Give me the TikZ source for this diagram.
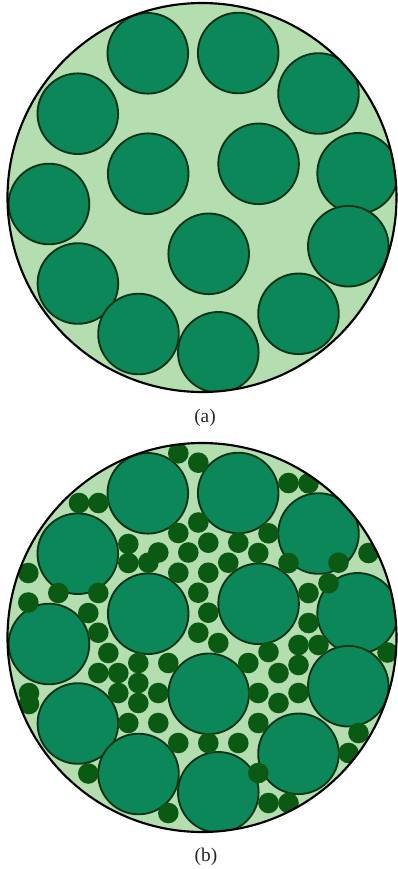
\documentclass[tikz,border=0pt]{standalone}
\usepackage{fontspec}
\setmainfont{Liberation Serif}
\definecolor{bgfill}{HTML}{B4DDB0}
\definecolor{bigfill}{HTML}{0B875A}
\definecolor{bigline}{HTML}{0A3515}
\definecolor{smallfill}{HTML}{0B5A14}
\def\bigcircles{147.8/53.3, 238.2/53, 318.5/93.5, 77.8/113.7, 148.2/173.7, 258.6/163.8, 357.6/173.3, 49/204, 208.7/253.8, 348.3/246.2, 77.9/283.5, 298.5/313.8, 138.5/334, 218.3/352.3}
\def\smallcircles{178.3/453.3, 198.3/462.7, 288.5/483, 308.5/483.3, 79/503, 98.5/503, 198.3/522.5, 178.3/533, 268.5/533.3, 128.3/544, 208.3/542.7, 238.3/542.7, 158.3/552.5, 188.3/552.5, 258.3/553, 368.5/553, 148.3/562.7, 128.3/563, 228.3/562.7, 288.5/563, 338.5/562.7, 178.3/572.7, 208.3/572.7, 28.3/573, 328.5/583.3, 58.3/593, 98.3/593, 198.3/592.7, 308.5/593, 28.3/602.5, 88.3/613, 208.3/612.7, 308.5/623, 98.3/632.7, 198.3/632.7, 218.3/643, 298.5/645, 318.5/645, 387.5/652.5, 108.3/653, 268.5/652, 298.5/665, 138.3/663, 168.3/663, 248.3/663, 98.3/673, 118.3/673, 278.5/673, 138.3/683, 118.3/693, 158.3/693, 258.3/693, 298.5/693, 29/693, 29/704, 138.3/703, 278.5/703, 128.3/723, 158.3/723, 258.3/723, 358.5/733, 178.3/743, 208.3/743, 238.3/743, 348.5/753, 88.3/773.5, 258.3/773, 268.5/803, 288.5/803, 168.3/813}
\begin{document}
\begin{tikzpicture}[x=0.75pt,y=-0.75pt,
  outerc/.style={draw=black,line width=1.6pt},
  bigc/.style={fill=bigfill,draw=bigline,line width=1.4pt},
  smallc/.style={fill=smallfill},
  caption/.style={font=\fontsize{14.5pt}{16pt}\selectfont,text=black!85,inner sep=0pt}]
\useasboundingbox (0,0) rectangle (397,869);
% (a)
\begin{scope}
  \fill[bgfill] (202,197.5) circle[radius=194.5];
  \clip (202,197.5) circle[radius=194.5];
  \foreach \cx/\cy in \bigcircles { \draw[bigc] (\cx,\cy) circle[radius=40.3]; }
\end{scope}
\draw[outerc] (202,197.5) circle[radius=194.5];
\node[caption] (capa) at (205,418) {(a)};
% (b)
\begin{scope}
  \fill[bgfill] (202,637.5) circle[radius=194.5];
  \clip (202,637.5) circle[radius=194.5];
  \foreach \cx/\cy in \bigcircles { \draw[bigc] (\cx,\cy+440) circle[radius=40.3]; }
  \foreach \cx/\cy in \smallcircles { \fill[smallc] (\cx,\cy) circle[radius=10.3]; }
\end{scope}
\draw[outerc] (202,637.5) circle[radius=194.5];
\node[caption] (capb) at (206,857) {(b)};
\end{tikzpicture}
\end{document}
